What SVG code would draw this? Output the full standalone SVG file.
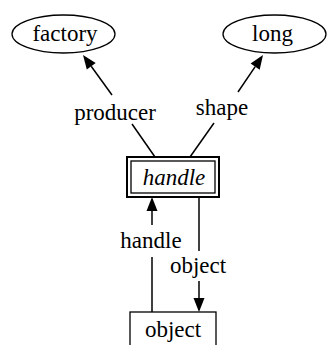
<svg xmlns="http://www.w3.org/2000/svg" width="327" height="345" viewBox="0 0 327 345">
  <rect width="327" height="345" fill="#fff"/>

  <g id="factory">
    <ellipse cx="63.5" cy="34" rx="51.5" ry="19" fill="#fff" stroke="#000" stroke-width="1.3"/>
    <text x="65" y="41" style="font-family:'Liberation Serif','Times New Roman',serif;font-size:23px" text-anchor="middle">factory</text>
  </g>

  <g id="long">
    <ellipse cx="274.5" cy="34" rx="51.5" ry="19" fill="#fff" stroke="#000" stroke-width="1.3"/>
    <text x="272.5" y="41" style="font-family:'Liberation Serif','Times New Roman',serif;font-size:23px" text-anchor="middle">long</text>
  </g>

  <g id="handle">
    <rect x="127" y="157" width="92" height="40" fill="#fff" stroke="#000" stroke-width="2"/>
    <rect x="131" y="161" width="84" height="32" fill="none" stroke="#000" stroke-width="1.3"/>
    <text x="174" y="185" style="font-family:'Liberation Serif','Times New Roman',serif;font-size:23px;font-style:italic" text-anchor="middle">handle</text>
  </g>

  <g id="object">
    <rect x="130" y="312" width="86" height="40" fill="#fff" stroke="#000" stroke-width="1.3"/>
    <text x="173" y="337" style="font-family:'Liberation Serif','Times New Roman',serif;font-size:23px" text-anchor="middle">object</text>
  </g>

  <g id="edges">
    <g stroke="#000" stroke-width="1.5">
      <line x1="155" y1="157" x2="132" y2="124"/>
      <line x1="112" y1="95" x2="91.2" y2="66.3"/>
      <line x1="190" y1="157" x2="214" y2="123"/>
      <line x1="238" y1="92" x2="255.2" y2="66.6"/>
      <line x1="152" y1="312" x2="152" y2="257"/>
      <line x1="152" y1="225" x2="152" y2="211"/>
      <line x1="199" y1="197" x2="199" y2="251"/>
      <line x1="199" y1="281" x2="199" y2="298"/>
    </g>
    <g fill="#000">
      <polygon points="83,55 95.7,63.1 86.8,69.6"/>
      <polygon points="263,55 259.7,69.7 250.6,63.5"/>
      <polygon points="152,197 157.5,211 146.5,211"/>
      <polygon points="199,312 193.5,298 204.5,298"/>
    </g>
    <text x="115" y="120" style="font-family:'Liberation Serif','Times New Roman',serif;font-size:23px" text-anchor="middle">producer</text>
    <text x="222" y="115" style="font-family:'Liberation Serif','Times New Roman',serif;font-size:23px" text-anchor="middle">shape</text>
    <text x="151" y="248" style="font-family:'Liberation Serif','Times New Roman',serif;font-size:23px" text-anchor="middle">handle</text>
    <text x="198" y="273" style="font-family:'Liberation Serif','Times New Roman',serif;font-size:23px" text-anchor="middle">object</text>
  </g>
</svg>
